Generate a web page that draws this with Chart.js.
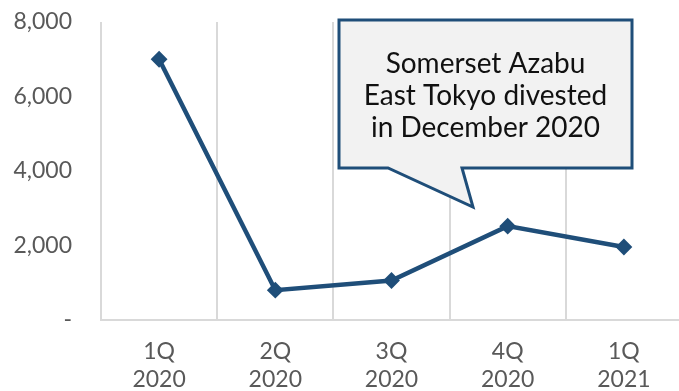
<!DOCTYPE html>
<html>
<head>
<meta charset="utf-8">
<script src="https://cdn.jsdelivr.net/npm/chart.js@4/dist/chart.umd.min.js"></script>
<style>
    html, body { margin: 0; padding: 0; background: #fff; overflow: hidden; }
</style>
</head>
<body>
<canvas id="line" width="679" height="391"></canvas>
<script>
const quarters = [ '1Q', '2Q', '3Q', '4Q', '1Q' ];
const years = [ '2020', '2020', '2020', '2020', '2021' ];
const values = [ 7000, 800, 1060, 2520, 1960 ];
const yTicks = [ 0, 2000, 4000, 6000, 8000 ];
const calloutLines = [ 'Somerset Azabu', 'East Tokyo divested', 'in December 2020' ];

const Colors = {
    navy: '#1F4E79',
    grid: '#D9D9D9',
    text: '#595959',
    bubble: '#F2F2F2',
    ink: '#111111'
};
const FONT = 'Lato, "Noto Sans", sans-serif';
// the plot runs a little past the right edge of the canvas
const PLOT_RIGHT = 682;

// speech bubble with the divestment note
const callout = {
    id: 'callout',
    afterDraw( chart ) {
        const ctx = chart.ctx;
        ctx.save();
        ctx.beginPath();
        ctx.moveTo( 339, 20 );
        ctx.lineTo( 632, 20 );
        ctx.lineTo( 632, 168 );
        ctx.lineTo( 462, 168 );
        ctx.lineTo( 473, 207 );
        ctx.lineTo( 388, 168 );
        ctx.lineTo( 339, 168 );
        ctx.closePath();
        ctx.fillStyle = Colors.bubble;
        ctx.fill();
        ctx.lineWidth = 3;
        ctx.lineJoin = 'miter';
        ctx.strokeStyle = Colors.navy;
        ctx.stroke();
        ctx.fillStyle = Colors.ink;
        ctx.font = '28px ' + FONT;
        ctx.textAlign = 'center';
        ctx.textBaseline = 'middle';
        calloutLines.forEach( ( line, i ) => ctx.fillText( line, 485.5, 64 + i * 32 ) );
        ctx.restore();
    }
};

const widenPlot = {
    id: 'widenPlot',
    afterLayout( chart ) {
        const x = chart.scales.x;
        x.right = PLOT_RIGHT;
        x.width = x.right - x.left;
        chart.chartArea.right = PLOT_RIGHT;
        chart.chartArea.width = PLOT_RIGHT - chart.chartArea.left;
        x.configure();
    }
};

// keep the plot area fixed: no extra room for edge labels
const noPadding = scale => {
    scale.paddingTop = 0;
    scale.paddingBottom = 0;
    scale.paddingLeft = 0;
    scale.paddingRight = 0;
};

new Chart( document.getElementById( 'line' ).getContext( '2d' ), {
    type: 'line',
    data: {
        labels: quarters.map( ( q, i ) => [ q, years[ i ] ] ),
        datasets: [ {
            data: values,
            borderColor: Colors.navy,
            backgroundColor: Colors.navy,
            borderWidth: 4.5,
            tension: 0,
            pointStyle: 'rectRot',
            pointRadius: 7,
            pointBorderWidth: 2,
            pointBackgroundColor: Colors.navy,
            pointBorderColor: Colors.navy
        } ]
    },
    options: {
        responsive: false,
        animation: false,
        layout: { padding: { top: 22, left: 0, right: 0, bottom: 0 } },
        plugins: {
            legend: { display: false },
            tooltip: { enabled: false }
        },
        scales: {
            x: {
                offset: true,
                grid: {
                    offset: true,
                    color: Colors.grid,
                    lineWidth: 2,
                    drawTicks: false
                },
                border: { color: Colors.grid, width: 2 },
                ticks: {
                    color: Colors.text,
                    font: { family: FONT, size: 23, lineHeight: 1.2 },
                    padding: 18,
                    maxRotation: 0,
                    autoSkip: false
                },
                afterFit( scale ) {
                    scale.height = 71;
                    noPadding( scale );
                }
            },
            y: {
                min: 0,
                max: 8000,
                afterBuildTicks( scale ) { scale.ticks = yTicks.map( v => ( { value: v } ) ); },
                grid: { display: false, drawTicks: false },
                border: { display: false },
                ticks: {
                    color: Colors.text,
                    font: { family: FONT, size: 23 },
                    padding: 29,
                    callback: v => v === 0 ? '-' : v.toLocaleString( 'en-US' )
                },
                afterFit( scale ) {
                    scale.width = 101;
                    noPadding( scale );
                }
            }
        }
    },
    plugins: [ widenPlot, callout ]
} );
</script>
</body>
</html>
